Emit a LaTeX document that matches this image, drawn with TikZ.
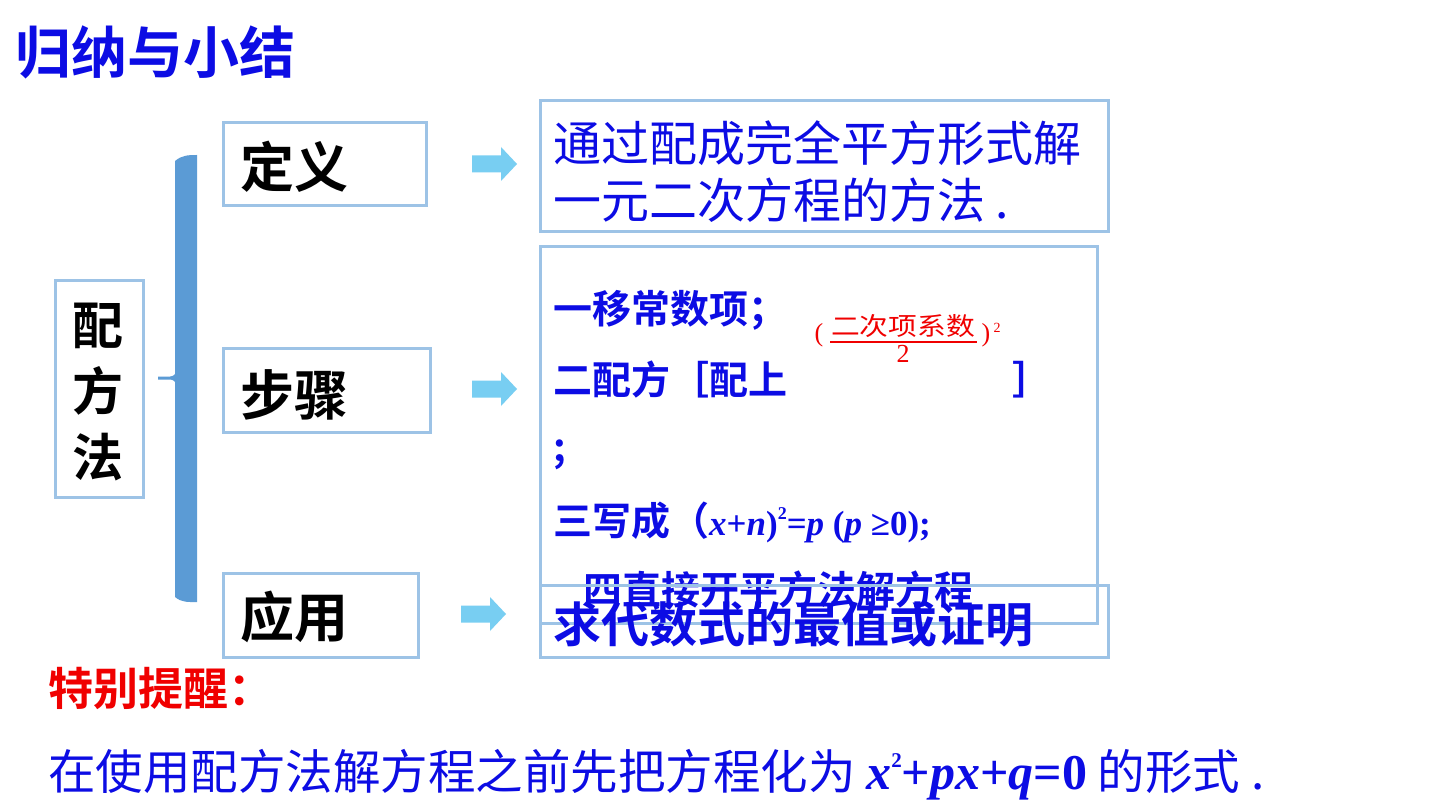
\documentclass[tikz,border=0pt]{standalone}
\usepackage{fontspec}
\newfontfamily\cjk{Noto Sans CJK SC}[BoldFont={Noto Sans CJK SC Bold}]
\newfontfamily\tnr{Liberation Serif}
\definecolor{tblue}{RGB}{12,12,228}
\definecolor{boxc}{RGB}{157,195,230}
\definecolor{brkc}{RGB}{91,155,213}
\definecolor{arrc}{RGB}{120,206,242}
\definecolor{tred}{RGB}{240,0,0}
\newcommand\fs[1]{\fontsize{#1}{#1}\selectfont}
\newcommand\mi[1]{{\tnr\bfseries\itshape #1}}
\newcommand\mr[1]{{\tnr\bfseries #1}}
\newcommand\sqr[1]{\raisebox{.45em}{\fs{#1}\tnr\bfseries 2}}
\begin{document}
\begin{tikzpicture}[x=1pt,y=-1pt,
  box/.style={draw=boxc,line width=3pt,inner sep=0pt},
  txt/.style={inner sep=0pt,anchor=west},
  barrow/.pic={\fill[arrc] (0,-8.5) -- (29,-8.5) -- (29,-17) -- (45,0) -- (29,17) -- (29,8.5) -- (0,8.5) -- cycle;}]
\useasboundingbox[fill=white] (0,0) rectangle (1440,810);

% title
\node[txt,text=tblue,font=\cjk\bfseries\fs{56}] (title) at (15,52) {归纳与小结};

% left box
\node[box,minimum width=88,minimum height=216] (pb) at (99,389) {};
\node[inner sep=0pt,align=center,font=\cjk\bfseries\fontsize{51}{66}\selectfont] (pt) at (98,392) {配\\方\\法};

% bracket bar
\fill[brkc] (175,161) to[out=40,in=180] (197,155) -- (197,602) to[out=180,in=-40] (175,597) -- cycle;
\fill[brkc] (158,376.5) -- (170,376.5) to[out=0,in=-90] (176,371) -- (176,385) to[out=90,in=0] (170,379.5) -- (158,379.5) -- cycle;

% middle boxes
\node[box,minimum width=203,minimum height=83] (dy) at (324.5,164.5) {};
\node[txt,font=\cjk\bfseries\fs{54}] (dyt) at (240,167) {定义};
\node[box,minimum width=207,minimum height=84] (bz) at (326.5,390) {};
\node[txt,font=\cjk\bfseries\fs{54}] (bzt) at (240,395) {步骤};
\node[box,minimum width=195,minimum height=84] (yy) at (320.5,615) {};
\node[txt,font=\cjk\bfseries\fs{54}] (yyt) at (240,617) {应用};

% arrows
\pic (a1) at (472,164) {barrow};
\pic (a2) at (472,389) {barrow};
\pic (a3) at (461,614) {barrow};

% definition box
\node[box,minimum width=568,minimum height=131] (db) at (824,166.5) {};
\node[txt,text=tblue,font=\cjk\fs{48}] (d1) at (553,143) {通过配成完全平方形式解};
\node[txt,text=tblue,font=\cjk\fs{48}] (d2) at (553,200) {一元二次方程的方法 .};

% steps box
\node[box,minimum width=557,minimum height=376] (sb) at (818.5,435) {};
\begin{scope}[every node/.style={txt,text=tblue,font=\cjk\bfseries\fs{39}}]
\node (s1) at (553,310) {一移常数项；};
\node (s2) at (553,380) {二配方［配上};
\node (s2b) at (1012,380) {］};
\node (s3) at (553,455) {;};
\node (s4) at (553,522) {三写成（{\fs{35}\mi{x}\mr{+}\mi{n}\mr{)}\sqr{18}\mr{=}\mi{p}\mr{ (}\mi{p}\mr{ ≥0);}}};
\node (s5) at (583,590) {四直接开平方法解方程};
\end{scope}

% red fraction
\node[inner sep=0pt,text=tred,font=\cjk\fs{25}] (fn) at (903,326) {\scalebox{1.15}[1]{二次项系数}};
\draw[tred,line width=1.2pt] (830,342) -- (977,342);
\node[inner sep=0pt,text=tred,font=\tnr\fs{26}] (fd) at (903,354) {2};
\node[inner sep=0pt,text=tred,font=\tnr\fs{26}] (fl) at (819,335) {(};
\node[inner sep=0pt,text=tred,font=\tnr\fs{26}] (fr) at (986,335) {)};
\node[inner sep=0pt,text=tred,font=\tnr\fs{14}] (fsq) at (997,328) {2};

% application box
\node[box,minimum width=568,minimum height=72] (ab) at (824,621) {};
\node[txt,text=tblue,font=\cjk\bfseries\fs{48}] (at) at (553,624) {求代数式的最值或证明};

% reminder
\node[txt,text=tred,font=\cjk\bfseries\fs{45}] (tb) at (48,688) {特别提醒：};
\node[txt,text=tblue,font=\cjk\fs{47.5}] (note) at (48,775) {在使用配方法解方程之前先把方程化为 {\fs{50}\mi{x}\sqr{21}\mr{+}\mi{px}\mr{+}\mi{q}\mr{=0}} 的形式 .};
\end{tikzpicture}
\end{document}
